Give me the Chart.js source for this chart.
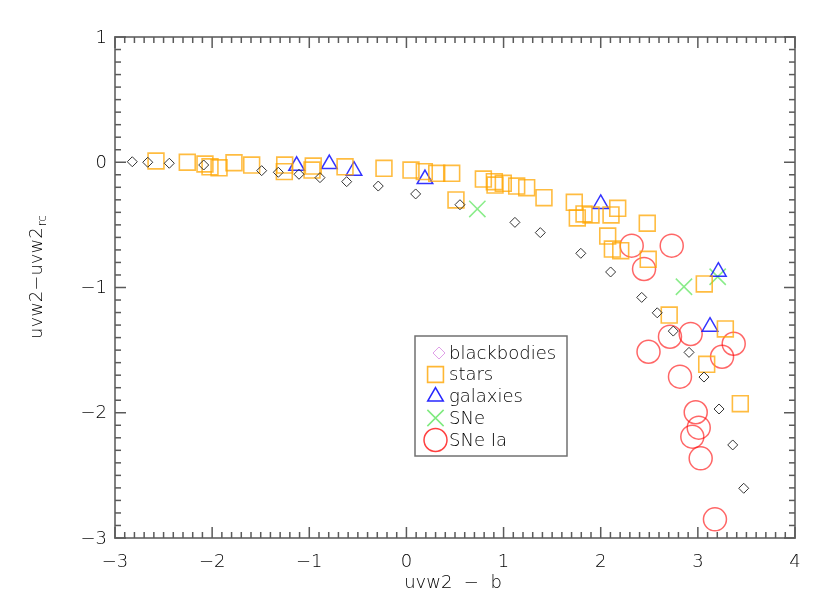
<!DOCTYPE html>
<html><head><meta charset="utf-8">
<script src="https://cdn.jsdelivr.net/npm/chart.js@4.4.0/dist/chart.umd.min.js"></script>
<style>html,body{margin:0;padding:0;background:#fff;} canvas{display:block;}</style>
</head><body>
<canvas id="c" width="830" height="612"></canvas>
<script>
// ---- data ----
const bbX = [-2.822,-2.663,-2.441,-2.087,-1.490,-1.319,-1.106,-0.890,-0.615,-0.290,0.095,0.551,1.117,1.378,1.795,2.102,2.422,2.582,2.747,2.909,3.063,3.218,3.359,3.472];
const bbY = [0.004,0.0,-0.008,-0.022,-0.067,-0.080,-0.096,-0.123,-0.155,-0.190,-0.253,-0.339,-0.480,-0.562,-0.727,-0.876,-1.079,-1.202,-1.348,-1.518,-1.715,-1.970,-2.257,-2.603];

const starX = [-2.578,-2.256,-2.074,-2.022,-1.929,-1.775,-1.593,-1.253,-1.257,-0.959,-0.972,-0.632,-0.231,0.047,0.184,0.312,0.466,0.510,0.792,0.905,0.912,0.997,1.135,1.238,1.416,1.728,1.759,1.828,1.900,2.106,2.175,2.072,2.120,2.206,2.479,2.489,2.705,3.066,3.283,3.091,3.437];
const starY = [0.010,0.0,-0.014,-0.036,-0.044,-0.004,-0.022,-0.022,-0.075,-0.030,-0.062,-0.036,-0.048,-0.062,-0.075,-0.088,-0.088,-0.301,-0.134,-0.155,-0.182,-0.168,-0.190,-0.203,-0.283,-0.320,-0.445,-0.413,-0.421,-0.421,-0.368,-0.589,-0.693,-0.706,-0.487,-0.775,-1.220,-0.972,-1.331,-1.613,-1.928];

const galX = [-1.130,-0.794,-0.540,0.191,2.000,3.211,3.125];
const galY = [-0.028,-0.014,-0.067,-0.134,-0.333,-0.874,-1.313];

const sneX = [0.730,2.857,3.204];
const sneY = [-0.373,-0.994,-0.914];

const snIaX = [2.319,2.731,2.446,2.713,2.926,2.492,3.369,3.249,2.816,2.978,3.009,2.943,3.029,3.176];
const snIaY = [-0.666,-0.666,-0.852,-1.393,-1.371,-1.513,-1.449,-1.553,-1.712,-1.996,-2.119,-2.191,-2.364,-2.851];

const xTicks = [-3,-2,-1,0,1,2,3,4];
const yTicks = [1,0,-1,-2,-3];
const xTitle = 'uvw2  \u2212  b';
const yTitle = 'uvw2\u2212uvw2';
const yTitleSub = 'rc';
const legendLabels = ['blackbodies','stars','galaxies','SNe','SNe Ia'];

// ---- helpers ----
const pts = (xs, ys) => xs.map((x, i) => ({x: x, y: ys[i]}));
const FONT = '"DejaVu Sans", "Liberation Sans", sans-serif';
const FW = '200 ';
const fmt = v => (v < 0 ? '\u2212' + Math.abs(v) : String(v));

const styles = [
  {pointStyle:'rectRot', radius:5, color:'#333333', width:1, legendColor:'#e0a0e8'},
  {pointStyle:'rect', radius:11.2, color:'rgba(255,165,0,0.75)', width:1.6, legendColor:'rgba(255,165,0,0.8)'},
  {pointStyle:'triangle', radius:9, color:'rgba(0,0,255,0.8)', width:1.5, legendColor:'rgba(0,0,255,0.85)'},
  {pointStyle:'crossRot', radius:11.5, color:'rgba(40,220,40,0.55)', width:1.5, legendColor:'rgba(40,220,40,0.6)'},
  {pointStyle:'circle', radius:11.5, color:'rgba(255,0,0,0.6)', width:1.5, legendColor:'rgba(255,0,0,0.75)'}
];
const seriesData = [pts(bbX,bbY), pts(starX,starY), pts(galX,galY), pts(sneX,sneY), pts(snIaX,snIaY)];

function drawShape(ctx, style, r, x, y) {
  const s = Math.SQRT1_2 * r;
  if (style === 'rectRot') { ctx.moveTo(x - r, y); ctx.lineTo(x, y - r); ctx.lineTo(x + r, y); ctx.lineTo(x, y + r); ctx.closePath(); }
  else if (style === 'rect') { ctx.rect(x - s, y - s, 2 * s, 2 * s); }
  else if (style === 'triangle') { ctx.moveTo(x, y - r); ctx.lineTo(x + 0.866 * r, y + r / 2); ctx.lineTo(x - 0.866 * r, y + r / 2); ctx.closePath(); }
  else if (style === 'crossRot') { ctx.moveTo(x - s, y - s); ctx.lineTo(x + s, y + s); ctx.moveTo(x + s, y - s); ctx.lineTo(x - s, y + s); }
  else { ctx.arc(x, y, r, 0, Math.PI * 2); }
}

const frame = {
  id: 'frame',
  beforeDatasetsDraw(chart) {
    const {ctx, chartArea: a, scales: {x, y}} = chart;
    ctx.save();
    ctx.strokeStyle = '#808080';
    ctx.lineWidth = 2;
    ctx.strokeRect(a.left, a.top, a.right - a.left, a.bottom - a.top);
    ctx.strokeStyle = '#5a5a5a';
    ctx.lineWidth = 1.5;
    const ln = (x1, y1, x2, y2) => { ctx.beginPath(); ctx.moveTo(x1, y1); ctx.lineTo(x2, y2); ctx.stroke(); };
    const xmin = xTicks[0], xmax = xTicks[xTicks.length - 1];
    for (let i = xmin * 10; i <= xmax * 10; i++) {
      const px = x.getPixelForValue(i / 10);
      const L = (i % 10 === 0) ? 11 : 6;
      ln(px, a.bottom, px, a.bottom - L);
      ln(px, a.top, px, a.top + L);
    }
    const ymin = yTicks[yTicks.length - 1], ymax = yTicks[0];
    for (let i = ymin * 10; i <= ymax * 10; i++) {
      const py = y.getPixelForValue(i / 10);
      const L = (i % 10 === 0) ? 11 : 6;
      ln(a.left, py, a.left + L, py);
      ln(a.right, py, a.right - L, py);
    }
    ctx.restore();
  },
  afterDraw(chart) {
    const {ctx, chartArea: a, scales: {x, y}} = chart;
    ctx.save();
    ctx.fillStyle = '#000';
    ctx.font = FW + '18px ' + FONT;
    ctx.textAlign = 'center';
    ctx.textBaseline = 'middle';
    xTicks.forEach(v => ctx.fillText(fmt(v), x.getPixelForValue(v), a.bottom + 24));
    ctx.textAlign = 'right';
    yTicks.forEach(v => ctx.fillText(fmt(v), a.left - 8, y.getPixelForValue(v) + 1));
    // x title
    ctx.textAlign = 'center';
    ctx.fillText(xTitle, (a.left + a.right) / 2 - 2, a.bottom + 45);
    // y title rotated
    ctx.save();
    ctx.translate(36, 0);
    ctx.rotate(-Math.PI / 2);
    ctx.textAlign = 'left';
    ctx.textBaseline = 'alphabetic';
    ctx.font = FW + '18px ' + FONT;
    const w1 = ctx.measureText(yTitle).width;
    ctx.font = FW + '12px ' + FONT;
    const w2 = ctx.measureText(yTitleSub).width;
    const startY = -((a.top + a.bottom) / 2 + (w1 + w2) / 2 - 10);
    ctx.font = FW + '18px ' + FONT;
    ctx.fillText(yTitle, startY, 6);
    ctx.font = FW + '12px ' + FONT;
    ctx.fillText(yTitleSub, startY + w1 + 1, 10);
    ctx.restore();
    // legend
    const bx = 415, by = 336, bw = 152, bh = 120;
    ctx.strokeStyle = '#707070';
    ctx.lineWidth = 1.5;
    ctx.strokeRect(bx, by, bw, bh);
    const rows = [353, 374.5, 396.5, 418, 440];
    ctx.textAlign = 'left';
    ctx.textBaseline = 'middle';
    ctx.font = FW + '18px ' + FONT;
    legendLabels.forEach((lab, i) => {
      const s = styles[i];
      const mx = i === 0 ? 439 : 435.5;
      const r = i === 0 ? 6 : s.radius;
      ctx.strokeStyle = s.legendColor;
      ctx.lineWidth = s.width;
      ctx.beginPath();
      drawShape(ctx, s.pointStyle, r, mx, rows[i]);
      ctx.stroke();
      ctx.fillStyle = '#000';
      ctx.fillText(lab, 449, rows[i] + 1);
    });
    ctx.restore();
  }
};

new Chart(document.getElementById('c'), {
  type: 'scatter',
  data: {
    datasets: seriesData.map((d, i) => ({
      label: legendLabels[i],
      data: d,
      pointStyle: styles[i].pointStyle,
      pointRadius: styles[i].radius,
      borderColor: styles[i].color,
      backgroundColor: 'rgba(0,0,0,0)',
      borderWidth: styles[i].width,
      clip: false
    }))
  },
  options: {
    responsive: false,
    animation: false,
    events: [],
    layout: {padding: {left: 115, right: 35, top: 37, bottom: 74}},
    scales: {
      x: {type: 'linear', min: -3, max: 4, display: false},
      y: {type: 'linear', min: -3, max: 1, display: false}
    },
    plugins: {legend: {display: false}, tooltip: {enabled: false}}
  },
  plugins: [frame]
});
</script>
</body></html>
